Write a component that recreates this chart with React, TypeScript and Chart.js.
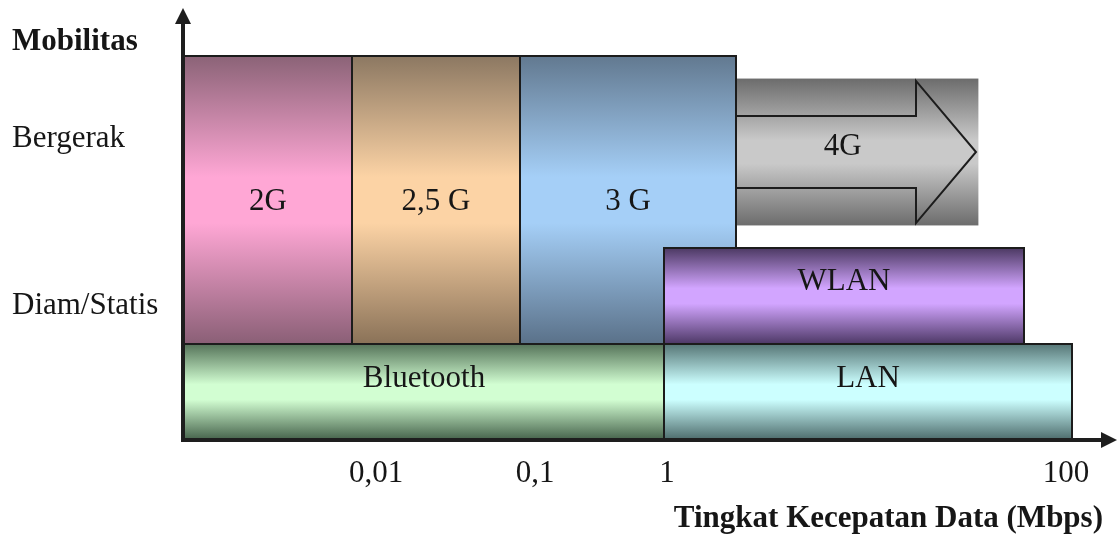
import React, { useEffect, useRef } from "react";
import { Chart, registerables } from "chart.js";

Chart.register(...registerables);

// ---- data ----
const technologies = ["2G", "2,5 G", "3 G", "4G", "WLAN", "Bluetooth", "LAN"];
// x: schematic data-rate position, y: mobility level (0 = static ground, 4 = fully mobile)
const rateStart = [0, 14, 28, 45.85, 40, 0, 40];
const rateEnd = [14, 28, 46, 66.2, 70, 40, 74];
const mobilityLow = [1, 1, 1, 2.235, 1, 0, 0];
const mobilityHigh = [4, 4, 4, 3.765, 2, 1, 1];
const labelRate = [7, 21, 37, 54.9, 55, 20, 57];
const labelMobility = [2.396, 2.396, 2.396, 2.97, 1.5625, 0.552, 0.552];

const rateTickValues = [16, 29.25, 40.25, 73.5];
const rateTickLabels = ["0,01", "0,1", "1", "100"];
const mobilityTickValues = [3.052, 1.3125];
const mobilityTickLabels = ["Bergerak", "Diam/Statis"];

const yTitle = "Mobilitas";
const xTitle = "Tingkat Kecepatan Data (Mbps)";

// 4G arrow shape (in axis units)
const arrowHeadAt = 61;
const arrowTipAt = 66;
const arrowCenter = 3;
const arrowShaftHalf = 0.375;
const arrowHeadHalf = 0.74;

// gradients: [edge-top, middle, edge-bottom]
const palette: string[][] = [
  ["#8b6377", "#ffa7d5", "#8a5f76"],
  ["#8c7862", "#fcd3a5", "#8a7258"],
  ["#627990", "#a5cff7", "#5a7189"],
  ["#6c6c6c", "#c9c9c9", "#6c6c6c"],
  ["#4c3963", "#d2a5ff", "#4d3866"],
  ["#557359", "#d2fed2", "#45624b"],
  ["#567676", "#ccffff", "#4c6a6a"],
];

const FONT = "'Liberation Serif', 'Times New Roman', serif";
const INK = "#161616";

const diagramPlugin = {
  id: "diagram",
  afterDraw(chart: any) {
    const ctx: CanvasRenderingContext2D = chart.ctx;
    const xs = chart.scales.x;
    const ys = chart.scales.y;
    const px = (v: number) => xs.getPixelForValue(v);
    const py = (v: number) => ys.getPixelForValue(v);

    ctx.save();
    const order = [3, 0, 1, 2, 4, 5, 6];
    for (const i of order) {
      const x0 = px(rateStart[i]);
      const x1 = px(rateEnd[i]);
      const y0 = py(mobilityHigh[i]);
      const y1 = py(mobilityLow[i]);
      const g = ctx.createLinearGradient(0, y0, 0, y1);
      const [a, b, c] = palette[i];
      g.addColorStop(0, a);
      g.addColorStop(0.42, b);
      g.addColorStop(0.58, b);
      g.addColorStop(1, c);
      ctx.fillStyle = g;
      ctx.fillRect(x0, y0, x1 - x0, y1 - y0);
      ctx.strokeStyle = "#1c1c1c";
      ctx.lineWidth = 2;
      if (i === 3) {
        const sx = px(rateStart[2] === undefined ? rateStart[i] : rateEnd[2]);
        ctx.beginPath();
        ctx.moveTo(sx, py(arrowCenter + arrowShaftHalf));
        ctx.lineTo(px(arrowHeadAt), py(arrowCenter + arrowShaftHalf));
        ctx.lineTo(px(arrowHeadAt), py(arrowCenter + arrowHeadHalf));
        ctx.lineTo(px(arrowTipAt), py(arrowCenter));
        ctx.lineTo(px(arrowHeadAt), py(arrowCenter - arrowHeadHalf));
        ctx.lineTo(px(arrowHeadAt), py(arrowCenter - arrowShaftHalf));
        ctx.lineTo(sx, py(arrowCenter - arrowShaftHalf));
        ctx.stroke();
      } else {
        ctx.strokeRect(x0, y0, x1 - x0, y1 - y0);
      }
    }

    // box labels
    ctx.fillStyle = INK;
    ctx.font = `31px ${FONT}`;
    ctx.textAlign = "center";
    ctx.textBaseline = "alphabetic";
    technologies.forEach((t, i) => {
      ctx.fillText(t, px(labelRate[i]), py(labelMobility[i]));
    });

    // axes
    const ox = px(0) - 1;
    const oy = py(0);
    ctx.strokeStyle = "#1e1e1e";
    ctx.fillStyle = "#1e1e1e";
    ctx.lineWidth = 4;
    ctx.beginPath();
    ctx.moveTo(ox, oy + 2);
    ctx.lineTo(ox, chart.chartArea.top + 14);
    ctx.moveTo(ox - 2, oy);
    ctx.lineTo(chart.chartArea.right - 14, oy);
    ctx.stroke();
    ctx.beginPath();
    ctx.moveTo(ox, chart.chartArea.top);
    ctx.lineTo(ox - 8, chart.chartArea.top + 16);
    ctx.lineTo(ox + 8, chart.chartArea.top + 16);
    ctx.closePath();
    ctx.fill();
    ctx.beginPath();
    ctx.moveTo(chart.chartArea.right, oy);
    ctx.lineTo(chart.chartArea.right - 16, oy - 8);
    ctx.lineTo(chart.chartArea.right - 16, oy + 8);
    ctx.closePath();
    ctx.fill();

    // tick labels
    ctx.fillStyle = INK;
    ctx.font = `31px ${FONT}`;
    ctx.textAlign = "center";
    rateTickValues.forEach((v, i) => {
      ctx.fillText(rateTickLabels[i], px(v), oy + 42);
    });
    ctx.textAlign = "left";
    mobilityTickValues.forEach((v, i) => {
      ctx.fillText(mobilityTickLabels[i], 12, py(v));
    });

    // titles
    ctx.font = `bold 31px ${FONT}`;
    ctx.textAlign = "left";
    ctx.fillText(yTitle, 12, 50);
    ctx.textAlign = "right";
    ctx.fillText(xTitle, 1103, 527);
    ctx.restore();
  },
};

export default function App() {
  const canvasRef = useRef<HTMLCanvasElement | null>(null);

  useEffect(() => {
    document.body.style.margin = "0";
    const canvas = canvasRef.current;
    if (!canvas) return;
    const chart = new Chart(canvas, {
      type: "scatter",
      data: { datasets: [] },
      options: {
        animation: false,
        responsive: false,
        events: [],
        layout: { padding: { left: 184, right: 1, top: 8, bottom: 97 } },
        plugins: { legend: { display: false }, tooltip: { enabled: false } },
        scales: {
          x: { type: "linear", min: 0, max: 77.75, display: false },
          y: { type: "linear", min: 0, max: 4.5, display: false },
        },
      },
      plugins: [diagramPlugin],
    });
    return () => chart.destroy();
  }, []);

  return (
    <div style={{ width: 1118, height: 537, background: "#fff" }}>
      <canvas ref={canvasRef} width={1118} height={537} style={{ display: "block" }} />
    </div>
  );
}
